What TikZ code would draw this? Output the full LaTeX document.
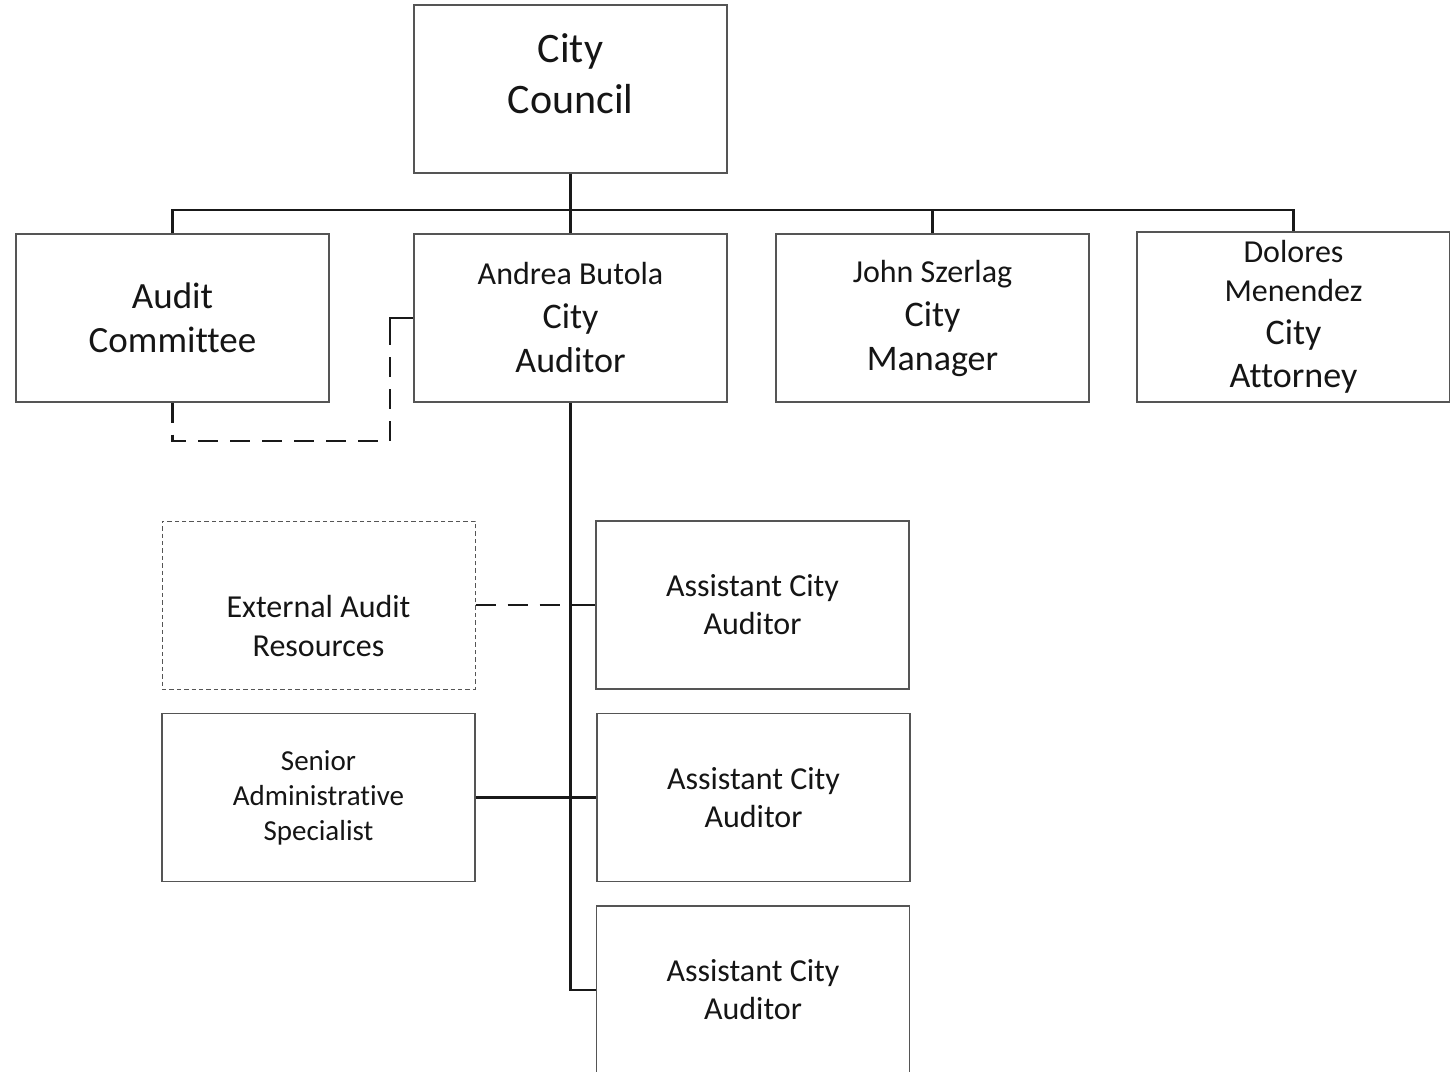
\documentclass[tikz,border=0pt]{standalone}
\usepackage{fontspec}
\setmainfont{Carlito}[Ligatures=NoCommon]
\definecolor{ink}{HTML}{151515}
\definecolor{edge}{HTML}{555555}
\begin{document}
\begin{tikzpicture}[x=0.5pt,y=-0.5pt,
  box/.style={draw=edge, line width=0.7pt, minimum width=156.5pt, minimum height=84pt,
    inner sep=0pt, align=center, text=ink, fill=white},
  txt/.style={inner sep=0pt, align=center, text=ink},
  conn/.style={draw=black!90, line width=1.3pt},
  dconn/.style={draw=black!90, line width=1.3pt, dash pattern=on 10pt off 6pt},
  dbox/.style={box, draw=edge, line width=0.5pt, dash pattern=on 2.2pt off 1.5pt}]
\useasboundingbox (0,0) rectangle (1450,1071);
\clip (0,0) rectangle (1450,1071);
\fill[white] (0,0) rectangle (1450,1071);

% boxes
\node[box] (council) at (570.5,89) {};
\node[txt, font=\fontsize{21}{25.5}\selectfont] (councilT) at (570.5,73.5) {City\\Council};

\node[box, font=\fontsize{18.5}{22}\selectfont] (audit) at (172.5,318) {Audit\\Committee};
\node[box, font=\fontsize{18}{22}\selectfont] (auditor) at (570.5,318)
  {{\fontsize{16}{22}\selectfont Andrea Butola}\\City\\Auditor};
\node[box, font=\fontsize{18}{22}\selectfont] (manager) at (932.5,318)
  {{\fontsize{16}{22}\selectfont John Szerlag}\\City\\Manager};
\node[box, minimum height=85pt, font=\fontsize{18}{21.5}\selectfont] (attorney) at (1293.5,317)
  {{\fontsize{16}{21.5}\selectfont Dolores}\\[-2pt]{\fontsize{16}{21.5}\selectfont Menendez}\\City\\Attorney};

\node[dbox] (external) at (318.5,605) {};
\node[txt, font=\fontsize{16}{19.5}\selectfont] (externalT) at (318.5,625.5) {External Audit\\Resources};
\node[box, font=\fontsize{14.5}{17.5}\selectfont] (senior) at (318.5,797.5) {Senior\\Administrative\\Specialist};

\node[box, font=\fontsize{16}{19}\selectfont] (asst1) at (752.5,605) {Assistant City\\Auditor};
\node[box, font=\fontsize{16}{19}\selectfont] (asst2) at (753.5,797.5) {Assistant City\\Auditor};
\node[box, font=\fontsize{16}{19}\selectfont] (asst3) at (753,990) {Assistant City\\Auditor};

% top connectors
\coordinate (bus) at (570.5,210);
\draw[conn] (council.south) -- (bus);
\draw[conn] (audit.north) |- (bus) -| (attorney.north);
\draw[conn] (bus) -- (auditor.north);
\draw[conn] (manager.north |- bus) -- (manager.north);

% dashed audit committee link
\coordinate (dcorner) at (390,441);
\draw[dconn] (audit.south) |- (dcorner) -- (390,330);
\draw[conn] (390,330) |- (auditor.west);

% trunk
\draw[conn] (auditor.south) |- (asst3.west);
\coordinate (t1) at (570.5,605);
\coordinate (t2) at (570.5,797.5);
\draw[dconn] (external.east) -- (t1);
\draw[conn] (t1) -- (asst1.west);
\draw[conn] (senior.east) -- (t2) -- (asst2.west);
\end{tikzpicture}
\end{document}
